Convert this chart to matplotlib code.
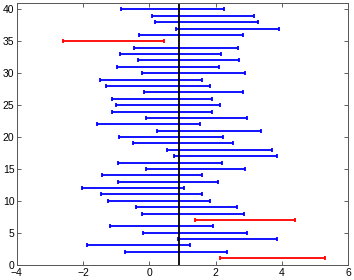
import matplotlib
matplotlib.use("Agg")
import matplotlib.pyplot as plt
import numpy as np

plt.rcParams['font.family'] = ['Liberation Sans', 'DejaVu Sans']

# sample index 1..40
samples = list(range(1, 41))
lows = [2.13, -0.73, -1.88, 0.85, -0.19, -1.19, 1.39, -0.21, -0.39, -1.26,
        -1.47, -2.03, -0.94, -1.44, -0.10, -0.94, 0.73, 0.52, -0.48, -0.91,
        0.24, -1.57, -0.10, -1.14, -1.00, -1.14, -0.17, -1.30, -1.50, -0.21,
        -0.98, -0.35, -0.89, -0.46, -2.61, -0.31, 0.79, 0.16, 0.07, -0.85]
highs = [5.29, 2.34, 1.23, 3.84, 2.93, 1.91, 4.39, 2.86, 2.63, 1.82,
         1.60, 1.04, 2.07, 1.60, 2.87, 2.20, 3.84, 3.70, 2.52, 2.23,
         3.38, 1.54, 2.94, 1.89, 2.12, 1.89, 2.82, 1.83, 1.60, 2.89,
         2.11, 2.69, 2.15, 2.67, 0.43, 2.82, 3.92, 3.29, 3.16, 2.25]
true_mean = 0.89

fig = plt.figure(figsize=(3.54, 2.80), dpi=100)
ax = fig.add_axes([0.047, 0.055, 0.937, 0.934])

for y, lo, hi in zip(samples, lows, highs):
    c = (0, 0, 1) if lo <= true_mean <= hi else (1, 0, 0)
    mid = (lo + hi) / 2
    ax.errorbar([mid], [y], xerr=[[mid - lo], [hi - mid]], fmt='none',
                ecolor=c, elinewidth=1.3, capsize=1.7, capthick=1.3)

ax.axvline(true_mean, color='black', lw=1.3)

ax.set_xlim(-4, 6)
ax.set_ylim(0, 41)
ax.set_xticks([-4, -2, 0, 2, 4, 6])
ax.set_yticks([0, 5, 10, 15, 20, 25, 30, 35, 40])
ax.set_xticklabels(['\u22124', '\u22122', '0', '2', '4', '6'])
ax.tick_params(direction='in', top=True, right=True, length=3, width=0.6,
               labelsize=7.5, colors='#444444', labelcolor='black')
ax.tick_params(axis='x', pad=2.5)
ax.tick_params(axis='y', pad=1.5)
for s in ax.spines.values():
    s.set_linewidth(0.7)
    s.set_color('#555555')

fig.savefig('out.png', dpi=100)
